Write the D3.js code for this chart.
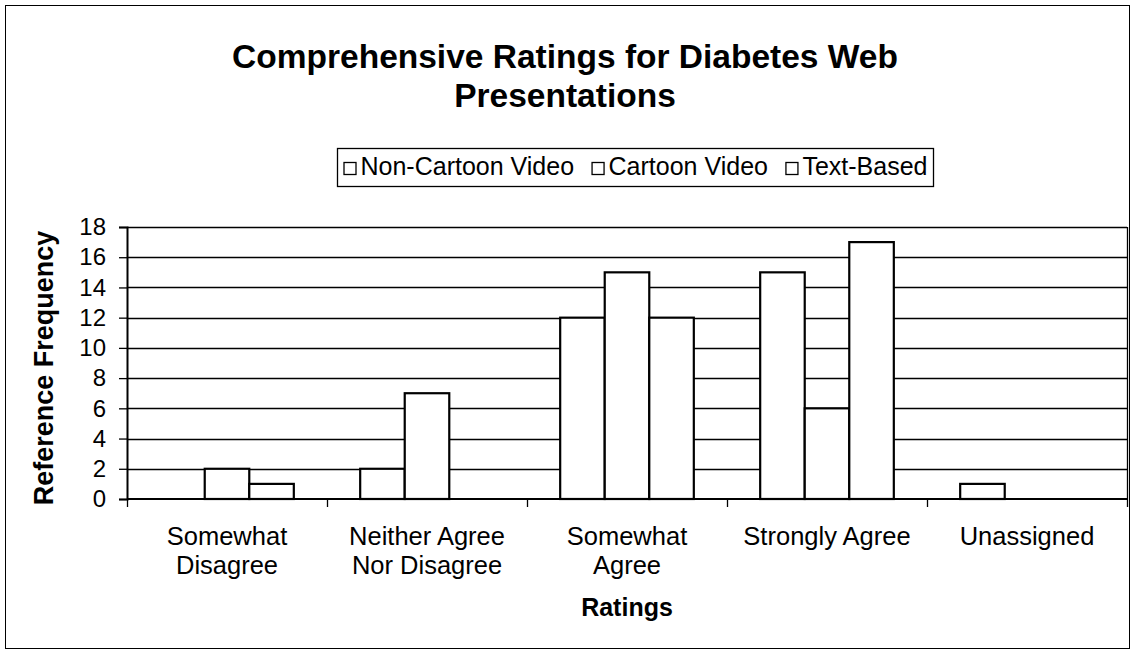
<!DOCTYPE html>
<html>
<head>
<meta charset="utf-8">
<script src="https://cdn.jsdelivr.net/npm/d3@7"></script>
<style>
  body { margin: 0; background: #fff; }
  text { font-family: Arial, "Liberation Sans", sans-serif; fill: #000; }
</style>
</head>
<body>
<svg id="canvas" width="1134" height="653"></svg>
<script>
let categories = [["Somewhat", "Disagree"], ["Neither Agree", "Nor Disagree"], ["Somewhat", "Agree"], ["Strongly Agree"], ["Unassigned"]]
let seriesNames = ["Non-Cartoon Video", "Cartoon Video", "Text-Based"]
let nonCartoon = [0, 2, 12, 15, 1]
let cartoon = [2, 7, 15, 6, 0]
let textBased = [1, 0, 12, 17, 0]
let yTicks = [0, 2, 4, 6, 8, 10, 12, 14, 16, 18]

let svg = d3.select('#canvas')

let plotLeft = 127, plotRight = 1127, plotTop = 227, plotBottom = 499

// outer chart border
svg.append('rect')
    .attr('x', 5.5).attr('y', 5.5)
    .attr('width', 1124).attr('height', 643)
    .attr('fill', 'none').attr('stroke', '#000').attr('stroke-width', 1)

let x0 = d3.scaleBand()
    .domain(d3.range(categories.length))
    .range([plotLeft, plotRight])

let x1 = d3.scaleBand()
    .domain(d3.range(seriesNames.length))
    .range([0, x0.bandwidth()])
    .paddingOuter(0.745).paddingInner(0)

let y = d3.scaleLinear().domain([0, 18]).range([plotBottom, plotTop])

// gridlines
svg.append('g')
    .selectAll('line')
    .data(yTicks.filter(d => d > 0))
    .enter()
    .append('line')
    .attr('x1', plotLeft).attr('x2', plotRight)
    .attr('y1', d => Math.round(y(d)) + 0.5)
    .attr('y2', d => Math.round(y(d)) + 0.5)
    .attr('stroke', '#000').attr('stroke-width', 1.3)

// right edge of plot area
svg.append('line')
    .attr('x1', plotRight + 0.5).attr('x2', plotRight + 0.5)
    .attr('y1', plotTop).attr('y2', plotBottom)
    .attr('stroke', '#000').attr('stroke-width', 1.3)

let rows = categories.map((c, i) => [nonCartoon[i], cartoon[i], textBased[i]])

let groups = svg.append('g')
    .selectAll('g')
    .data(rows)
    .enter()
    .append('g')
    .attr('transform', (d, i) => 'translate(' + x0(i) + ',0)')

groups.selectAll('rect')
    .data(d => d.map((v, k) => ({v: v, k: k})).filter(e => e.v > 0))
    .enter()
    .append('rect')
    .attr('x', e => x1(e.k))
    .attr('y', e => y(e.v))
    .attr('width', x1.bandwidth())
    .attr('height', e => y(0) - y(e.v))
    .attr('fill', '#fff')
    .attr('stroke', '#000')
    .attr('stroke-width', 2.2)

// y axis
let yAxis = d3.axisLeft(y).tickValues(yTicks).tickSize(8).tickPadding(13)
let gy = svg.append('g')
    .attr('transform', 'translate(' + plotLeft + ',0)')
    .call(yAxis)
gy.select('.domain').attr('stroke', '#000').attr('stroke-width', 2)
gy.selectAll('.tick line').attr('stroke-width', 1.3)
gy.selectAll('text').style('font-size', '24px').attr('fill', '#000')

// x axis
let xAxis = d3.axisBottom(d3.scaleLinear().domain([0, categories.length]).range([plotLeft, plotRight]))
    .tickValues(d3.range(categories.length + 1)).tickSize(8).tickFormat('')
let gx = svg.append('g')
    .attr('transform', 'translate(0,' + plotBottom + ')')
    .call(xAxis)
gx.select('.domain').attr('stroke', '#000').attr('stroke-width', 2).attr('d', 'M' + plotLeft + ',0H' + plotRight)
gx.selectAll('.tick line').attr('stroke-width', 1.3)

// category labels
svg.append('g')
    .selectAll('text')
    .data(categories)
    .enter()
    .append('text')
    .attr('x', (d, i) => x0(i) + x0.bandwidth() / 2)
    .attr('y', 545)
    .attr('text-anchor', 'middle')
    .style('font-size', '25.5px')
    .selectAll('tspan')
    .data(d => d)
    .enter()
    .append('tspan')
    .attr('x', function() { return this.parentNode.getAttribute('x') })
    .attr('dy', (d, j) => j === 0 ? 0 : 29)
    .text(d => d)

// axis titles
svg.append('text')
    .attr('x', (plotLeft + plotRight) / 2).attr('y', 616)
    .attr('text-anchor', 'middle')
    .style('font-size', '25px').style('font-weight', 'bold')
    .text('Ratings')

svg.append('text')
    .attr('transform', 'translate(53,368) rotate(-90)')
    .attr('text-anchor', 'middle')
    .style('font-size', '27px').style('font-weight', 'bold')
    .text('Reference Frequency')

// title
let title = ['Comprehensive Ratings for Diabetes Web', 'Presentations']
svg.append('g')
    .selectAll('text')
    .data(title)
    .enter()
    .append('text')
    .attr('x', 565)
    .attr('y', (d, i) => 68 + i * 39)
    .attr('text-anchor', 'middle')
    .style('font-size', '33.5px').style('font-weight', 'bold')
    .text(d => d)

// legend - entries laid out one after another from their text widths
let legBoxX = 337.5, legBoxW = 596
let legend = svg.append('g')
legend.append('rect')
    .attr('x', legBoxX).attr('y', 148.5)
    .attr('width', legBoxW).attr('height', 38)
    .attr('fill', '#fff').attr('stroke', '#000').attr('stroke-width', 1.3)
let items = legend.selectAll('g.item')
    .data(seriesNames)
    .enter()
    .append('g')
    .attr('class', 'item')
items.append('rect')
    .attr('x', 0.5).attr('y', 0.5)
    .attr('width', 12).attr('height', 12)
    .attr('fill', '#fff').attr('stroke', '#000').attr('stroke-width', 1.3)
items.append('text')
    .attr('x', 17).attr('y', 13)
    .style('font-size', '25px')
    .text(d => d)
let widths = []
items.select('text').each(function() { widths.push(17 + this.getComputedTextLength()) })
let pad = 6
let gap = (legBoxW - 2 * pad - d3.sum(widths)) / (seriesNames.length - 1)
let cursor = legBoxX + pad
items.attr('transform', (d, i) => {
    let tx = cursor
    cursor += widths[i] + gap
    return 'translate(' + tx + ',162)'
})
</script>
</body>
</html>
